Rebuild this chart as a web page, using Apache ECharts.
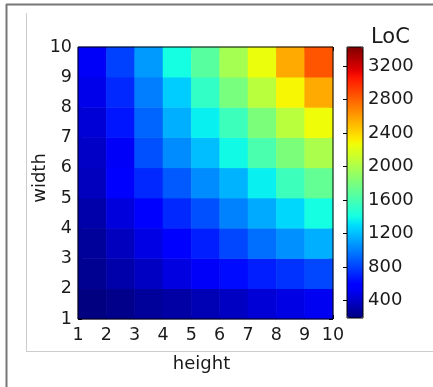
<!DOCTYPE html>
<html>
<head>
<meta charset="utf-8">
<script src="https://cdn.jsdelivr.net/npm/echarts@6/dist/echarts.min.js"></script>
<style>
  html, body { margin: 0; padding: 0; background: #fff; }
  #chart { width: 433px; height: 387px; }
</style>
</head>
<body>
<div id="chart"></div>
<script>
// cells: height bins 1..9 (x), width bins 1..9 (y)
const heightCells = ["1", "2", "3", "4", "5", "6", "7", "8", "9"];
const widthCells = ["1", "2", "3", "4", "5", "6", "7", "8", "9"];

// LoC per width row, left to right over height
const locWidth1 = [190, 222, 265, 294, 336, 378, 433, 475, 514];
const locWidth2 = [239, 307, 378, 462, 533, 627, 689, 754, 819];
const locWidth3 = [265, 365, 475, 563, 689, 819, 945, 1055, 1152];
const locWidth4 = [307, 449, 563, 721, 848, 1006, 1136, 1279, 1405];
const locWidth5 = [365, 563, 721, 880, 1039, 1165, 1356, 1561, 1713];
const locWidth6 = [391, 530, 848, 1039, 1198, 1389, 1616, 1810, 1995];
const locWidth7 = [433, 660, 913, 1152, 1356, 1561, 1810, 2053, 2264];
const locWidth8 = [491, 721, 994, 1246, 1518, 1797, 2053, 2296, 2555];
const locWidth9 = [530, 799, 1087, 1405, 1671, 1972, 2251, 2555, 2847];

const colorTicks = [400, 800, 1200, 1600, 2000, 2400, 2800, 3200];
const colorMin = 190;
const colorMax = 3430;

const rows = [locWidth1, locWidth2, locWidth3, locWidth4, locWidth5,
              locWidth6, locWidth7, locWidth8, locWidth9];
const heatData = [];
rows.forEach((row, y) => {
  row.forEach((v, x) => heatData.push([x, y, v]));
});

// matplotlib "jet" colormap
const jetSeg = {
  r: [[0, 0], [0.35, 0], [0.66, 1], [0.89, 1], [1, 0.5]],
  g: [[0, 0], [0.125, 0], [0.375, 1], [0.64, 1], [0.91, 0], [1, 0]],
  b: [[0, 0.5], [0.11, 1], [0.34, 1], [0.65, 0], [1, 0]]
};
function seg(pts, t) {
  for (let i = 1; i < pts.length; i++) {
    if (t <= pts[i][0]) {
      const a = pts[i - 1], b = pts[i];
      return a[1] + (b[1] - a[1]) * (t - a[0]) / (b[0] - a[0]);
    }
  }
  return pts[pts.length - 1][1];
}
const jetColors = [];
for (let i = 0; i <= 64; i++) {
  const t = i / 64;
  const c = ["r", "g", "b"].map((k) => Math.round(seg(jetSeg[k], t) * 255));
  jetColors.push("rgb(" + c.join(",") + ")");
}

const font = "DejaVu Sans";
const textColor = "#1a1a1a";

const tickAxis = (extra) => Object.assign({
  type: "value",
  gridIndex: 0,
  min: 1,
  max: 10,
  interval: 1,
  axisLine: { show: false },
  axisTick: { show: true, inside: true, length: 4, lineStyle: { color: "#000" } },
  splitLine: { show: false },
  axisLabel: { show: false }
}, extra);

const myChart = echarts.init(document.getElementById("chart"));
myChart.setOption({
  animation: false,
  backgroundColor: "#fff",
  textStyle: { fontFamily: font },
  title: {
    text: "LoC",
    left: 371,
    top: 27,
    padding: 0,
    textStyle: { fontFamily: font, fontSize: 21, fontWeight: "normal", color: textColor }
  },
  graphic: [
    { type: "line", shape: { x1: 6.5, y1: 4, x2: 6.5, y2: 387 }, style: { stroke: "#777", lineWidth: 2 } },
    { type: "line", shape: { x1: 6, y1: 4.5, x2: 433, y2: 4.5 }, style: { stroke: "#777", lineWidth: 2 } },
    { type: "line", shape: { x1: 26.5, y1: 13, x2: 26.5, y2: 351 }, style: { stroke: "#ccc", lineWidth: 1 } },
    { type: "line", shape: { x1: 26, y1: 351.5, x2: 433, y2: 351.5 }, style: { stroke: "#ccc", lineWidth: 1 } }
  ],
  grid: [
    { left: 78, top: 47, width: 255, height: 272, show: true, borderColor: "#000", borderWidth: 1, backgroundColor: "transparent", z: 5 },
    { left: 347, top: 47, width: 16, height: 271, show: true, borderColor: "#000", borderWidth: 1, backgroundColor: "transparent", z: 5 }
  ],
  xAxis: [
    { type: "category", gridIndex: 0, data: heightCells, show: false },
    tickAxis({
      position: "bottom",
      name: "height",
      nameLocation: "middle",
      nameGap: 36,
      nameMoveOverlap: false,
      nameTextStyle: { fontFamily: font, fontSize: 18, color: textColor, padding: [0, 8, 0, 0] },
      axisLabel: { show: true, fontFamily: font, fontSize: 17.5, color: textColor, margin: 7 }
    }),
    tickAxis({ position: "top" }),
    { type: "value", gridIndex: 1, min: 0, max: 1, show: false }
  ],
  yAxis: [
    { type: "category", gridIndex: 0, data: widthCells, show: false },
    tickAxis({
      position: "left",
      name: "width",
      nameLocation: "middle",
      nameGap: 29,
      nameMoveOverlap: false,
      nameTextStyle: { fontFamily: font, fontSize: 18, color: textColor, padding: [0, 0, 0, 10] },
      axisLabel: { show: true, fontFamily: font, fontSize: 17.5, color: textColor, margin: 6 }
    }),
    tickAxis({ position: "right" }),
    {
      type: "value",
      gridIndex: 1,
      position: "right",
      min: colorMin,
      max: colorMax,
      axisLine: { show: false },
      splitLine: { show: false },
      axisTick: { show: true, inside: true, length: 4, customValues: colorTicks, lineStyle: { color: "#000" } },
      axisLabel: {
        show: true,
        customValues: colorTicks,
        formatter: (v) => String(v),
        fontFamily: font,
        fontSize: 18,
        color: textColor,
        margin: 5
      }
    }
  ],
  visualMap: {
    type: "continuous",
    min: colorMin,
    max: colorMax,
    calculable: false,
    orient: "vertical",
    left: 347,
    top: 47,
    padding: 0,
    itemWidth: 16,
    itemHeight: 271,
    seriesIndex: 0,
    inRange: { color: jetColors }
  },
  series: [
    {
      type: "heatmap",
      xAxisIndex: 0,
      yAxisIndex: 0,
      data: heatData,
      itemStyle: { borderWidth: 0 },
      emphasis: { disabled: true }
    }
  ]
});
</script>
</body>
</html>
